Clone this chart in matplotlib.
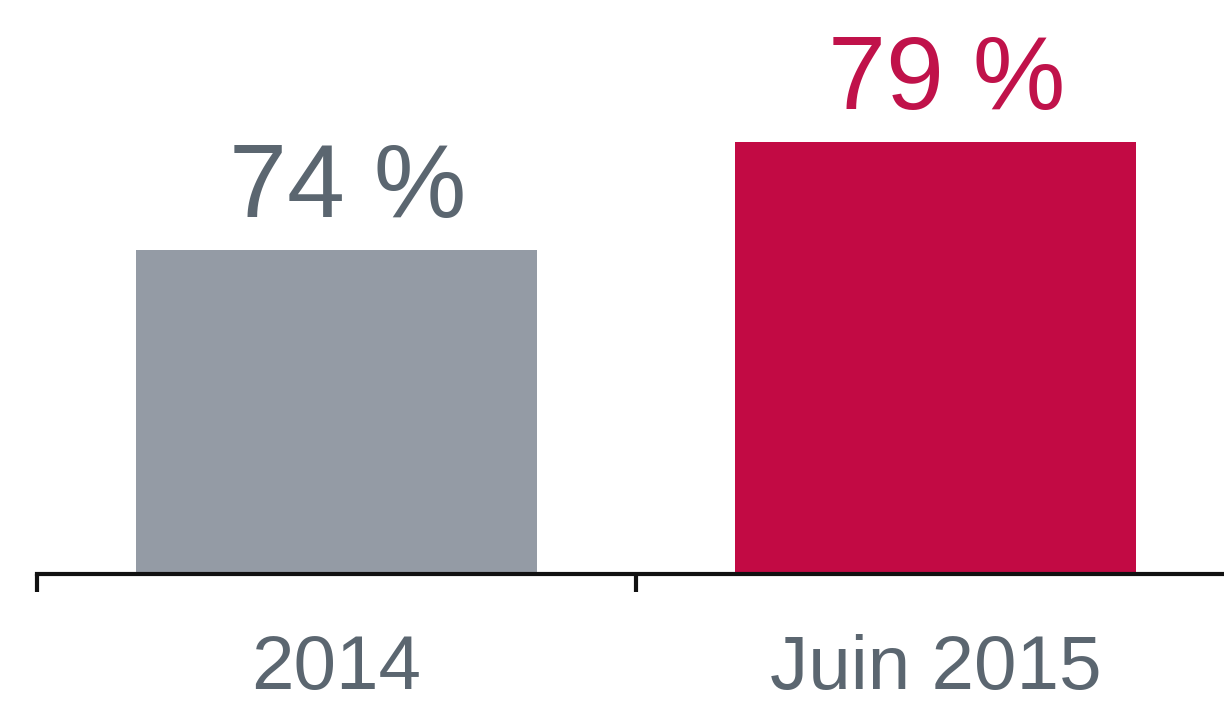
import matplotlib.pyplot as plt

# Data
categories = ["2014", "Juin 2015"]
values = [74, 79]
labels = ["74 %", "79 %"]
bar_colors = ["#949ba5", "#c20a44"]
text_colors = ["#5b6670", "#c0124a"]

plt.rcParams['font.family'] = ['Liberation Sans', 'DejaVu Sans']

fig = plt.figure(figsize=(12.24, 7.06), dpi=100)
ax = fig.add_axes([37 / 1224, 1 - 574 / 706, 1198 / 1224, 574 / 706])

x = list(range(len(categories)))
ax.bar(x, values, width=0.67, color=bar_colors, bottom=0)

y0 = 59
ax.set_ylim(y0, y0 + 574 / 21.6)
ax.set_xlim(-0.5, 1.5)

for xi, v, lab, c in zip(x, values, labels, text_colors):
    ax.annotate(lab, (xi, v), xytext=(8, 24), textcoords="offset points",
                ha="center", va="baseline", fontsize=75, color=c)

# Axis styling
for side in ["left", "right", "top"]:
    ax.spines[side].set_visible(False)
ax.spines["bottom"].set_linewidth(3)
ax.spines["bottom"].set_color("#111111")
ax.set_yticks([])

ax.set_xticks(x)
ax.set_xticklabels(categories, fontsize=55, color="#5b6670")
ax.tick_params(axis="x", which="major", length=0, pad=43)
ax.set_xticks([-0.5, 0.5, 1.5], minor=True)
ax.tick_params(axis="x", which="minor", length=13, width=3, direction="out", color="#111111")

fig.savefig("out.png", dpi=100)
